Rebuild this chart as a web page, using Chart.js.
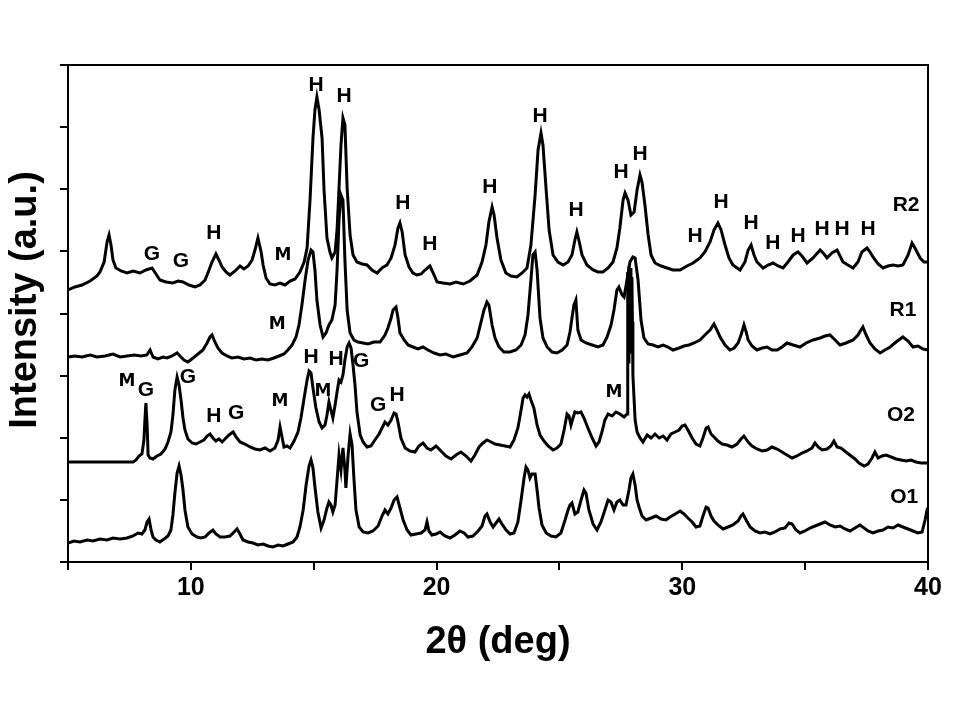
<!DOCTYPE html>
<html>
<head>
<meta charset="utf-8">
<script src="https://cdn.jsdelivr.net/npm/chart.js@4.4.0/dist/chart.umd.min.js"></script>
<style>
  html, body { margin: 0; padding: 0; background: #fff; }
</style>
</head>
<body>
<canvas id="xrd" width="960" height="720"></canvas>
<script>
// XRD patterns: [2theta (deg), intensity (a.u., curves already offset)]
const o1Pattern = [
  [5.00,19],[5.24,21],[5.49,20],[5.77,22],[6.02,21],[6.30,23],[6.59,22],[6.83,24],[7.12,23],[7.40,24],
  [7.65,26],[7.85,29],[8.01,28],[8.13,32],[8.22,40],[8.30,43],[8.38,32],[8.46,25],[8.58,22],[8.74,20],
  [8.91,23],[9.07,26],[9.19,32],[9.27,47],[9.35,69],[9.44,89],[9.52,96],[9.60,87],[9.68,72],[9.76,52],
  [9.88,35],[10.05,28],[10.25,25],[10.41,24],[10.58,25],[10.74,29],[10.90,32],[11.02,28],[11.19,25],[11.39,25],
  [11.59,26],[11.76,30],[11.88,33],[12.00,28],[12.12,22],[12.33,20],[12.53,19],[12.73,17],[12.94,18],[13.14,16],
  [13.34,15],[13.55,17],[13.75,16],[13.95,18],[14.16,20],[14.32,25],[14.44,35],[14.57,52],[14.69,77],[14.81,96],
  [14.89,102],[14.97,94],[15.05,75],[15.17,50],[15.30,34],[15.42,42],[15.54,54],[15.62,60],[15.70,57],[15.78,50],
  [15.87,57],[15.95,82],[16.03,107],[16.11,92],[16.19,114],[16.27,92],[16.31,74],[16.40,107],[16.48,128],[16.56,117],
  [16.64,82],[16.72,52],[16.85,35],[17.01,30],[17.21,29],[17.41,31],[17.62,36],[17.78,46],[17.90,52],[18.02,48],
  [18.15,54],[18.27,62],[18.39,65],[18.51,54],[18.64,42],[18.80,32],[18.96,27],[19.16,28],[19.37,29],[19.53,32],
  [19.61,40],[19.69,31],[19.81,27],[19.98,28],[20.14,30],[20.34,26],[20.55,24],[20.75,27],[20.95,31],[21.12,29],
  [21.28,25],[21.48,26],[21.69,31],[21.85,36],[21.97,46],[22.05,48],[22.18,40],[22.30,35],[22.42,39],[22.54,43],
  [22.66,38],[22.83,32],[22.99,28],[23.15,29],[23.31,40],[23.44,62],[23.56,84],[23.64,95],[23.72,92],[23.80,84],
  [23.88,88],[24.01,88],[24.09,72],[24.17,54],[24.29,37],[24.46,29],[24.66,26],[24.86,25],[25.06,29],[25.23,42],
  [25.35,52],[25.43,57],[25.51,59],[25.63,48],[25.75,50],[25.88,62],[26.00,72],[26.08,69],[26.20,52],[26.37,38],
  [26.53,32],[26.69,40],[26.85,52],[26.98,62],[27.10,60],[27.22,52],[27.34,60],[27.46,62],[27.59,57],[27.71,57],
  [27.83,72],[27.91,84],[27.99,88],[28.08,77],[28.16,62],[28.24,55],[28.36,46],[28.53,42],[28.73,44],[28.93,46],
  [29.14,43],[29.34,42],[29.50,45],[29.71,48],[29.91,51],[30.07,48],[30.23,44],[30.40,40],[30.56,35],[30.72,36],
  [30.84,46],[30.97,55],[31.05,54],[31.17,46],[31.29,41],[31.45,37],[31.66,33],[31.86,35],[32.06,37],[32.27,41],
  [32.39,46],[32.47,48],[32.60,42],[32.76,35],[32.96,31],[33.16,29],[33.37,30],[33.57,28],[33.77,30],[33.98,33],
  [34.18,34],[34.34,39],[34.47,38],[34.63,32],[34.79,29],[34.99,31],[35.20,34],[35.40,36],[35.61,38],[35.81,40],
  [36.01,37],[36.22,35],[36.42,36],[36.62,33],[36.83,31],[37.03,34],[37.23,37],[37.40,34],[37.56,31],[37.76,29],
  [37.97,31],[38.17,32],[38.37,35],[38.58,34],[38.78,37],[38.98,35],[39.19,33],[39.39,31],[39.59,29],[39.76,30],
  [39.88,42],[39.96,52],[40.00,54]
];

const o2Pattern = [
  [5.00,100],[7.65,100],[7.77,102],[7.89,106],[8.01,108],[8.09,122],[8.13,142],[8.17,159],[8.22,137],[8.26,107],
  [8.34,104],[8.46,103],[8.62,106],[8.78,108],[8.95,113],[9.07,120],[9.19,130],[9.27,147],[9.35,172],[9.44,185],
  [9.52,177],[9.60,162],[9.68,144],[9.76,132],[9.88,123],[10.05,119],[10.21,118],[10.37,120],[10.53,122],[10.66,126],
  [10.78,128],[10.90,124],[11.02,121],[11.14,123],[11.27,120],[11.43,124],[11.55,127],[11.72,130],[11.84,125],[12.00,120],
  [12.20,118],[12.41,115],[12.61,113],[12.81,112],[13.02,114],[13.22,111],[13.42,114],[13.55,122],[13.63,135],[13.71,125],
  [13.79,115],[13.91,116],[14.04,114],[14.20,121],[14.36,130],[14.48,144],[14.61,164],[14.73,182],[14.81,191],[14.89,189],
  [14.97,174],[15.09,154],[15.22,140],[15.34,134],[15.46,137],[15.54,147],[15.62,160],[15.70,152],[15.78,144],[15.87,157],
  [15.95,170],[16.03,182],[16.11,180],[16.19,187],[16.27,202],[16.36,215],[16.44,219],[16.52,214],[16.60,197],[16.68,177],
  [16.76,150],[16.89,127],[17.01,120],[17.17,115],[17.33,116],[17.49,122],[17.66,128],[17.78,134],[17.90,140],[18.02,137],
  [18.15,142],[18.27,149],[18.35,148],[18.43,140],[18.55,124],[18.72,114],[18.92,111],[19.12,110],[19.28,116],[19.45,119],
  [19.61,114],[19.77,112],[19.98,116],[20.18,111],[20.38,106],[20.59,103],[20.79,107],[20.99,110],[21.20,106],[21.40,101],
  [21.56,107],[21.73,115],[21.89,119],[22.05,122],[22.22,120],[22.38,118],[22.58,117],[22.79,116],[22.99,115],[23.15,122],
  [23.31,134],[23.44,152],[23.52,164],[23.60,167],[23.68,165],[23.76,168],[23.84,162],[23.96,154],[24.09,137],[24.21,127],
  [24.37,121],[24.54,116],[24.74,112],[24.90,114],[25.06,118],[25.19,132],[25.31,148],[25.39,146],[25.47,137],[25.55,144],
  [25.63,150],[25.75,149],[25.88,150],[26.00,144],[26.16,134],[26.33,124],[26.49,116],[26.61,120],[26.73,130],[26.85,142],
  [26.98,148],[27.14,146],[27.30,150],[27.46,148],[27.63,145],[27.75,148],[27.77,230],[27.79,290],[27.81,200],[27.83,296],
  [27.85,220],[27.87,292],[27.89,210],[27.91,294],[27.93,230],[27.95,285],[27.97,240],[27.99,187],[28.08,142],[28.16,130],
  [28.28,124],[28.40,120],[28.57,127],[28.73,124],[28.89,128],[29.06,124],
  [29.22,126],[29.38,122],[29.54,128],[29.71,130],[29.87,132],[29.99,136],[30.11,137],[30.23,132],[30.40,124],[30.56,118],
  [30.72,116],[30.84,124],[30.97,134],[31.05,135],[31.17,128],[31.29,125],[31.45,121],[31.62,118],[31.82,117],[32.02,115],
  [32.23,118],[32.39,123],[32.51,126],[32.68,120],[32.84,116],[33.04,113],[33.25,111],[33.45,112],[33.65,115],[33.86,113],
  [34.06,110],[34.26,107],[34.47,104],[34.67,106],[34.87,109],[35.08,111],[35.28,114],[35.40,119],[35.53,115],[35.69,112],
  [35.89,113],[36.05,116],[36.17,121],[36.30,115],[36.46,114],[36.66,110],[36.87,106],[37.03,103],[37.19,99],[37.40,96],
  [37.56,98],[37.72,104],[37.84,110],[37.97,104],[38.13,106],[38.29,107],[38.50,105],[38.70,103],[38.90,102],[39.11,101],
  [39.31,102],[39.51,100],[39.72,99],[40.00,99]
];

const r1Pattern = [
  [5.00,205],[5.28,206],[5.57,205],[5.90,207],[6.18,205],[6.51,206],[6.83,208],[7.12,205],[7.40,206],[7.69,207],
  [7.97,206],[8.21,207],[8.34,212],[8.46,205],[8.66,203],[8.87,205],[9.03,204],[9.23,206],[9.44,209],[9.56,206],
  [9.72,202],[9.88,200],[10.09,204],[10.29,208],[10.49,212],[10.66,219],[10.78,225],[10.86,227],[10.98,220],[11.10,214],
  [11.27,209],[11.47,206],[11.67,204],[11.92,205],[12.16,203],[12.41,204],[12.65,202],[12.90,203],[13.14,202],[13.38,204],
  [13.59,206],[13.79,208],[13.95,212],[14.12,217],[14.28,225],[14.40,237],[14.52,257],[14.65,282],[14.77,302],[14.89,312],
  [14.97,310],[15.05,292],[15.13,262],[15.26,237],[15.38,225],[15.50,229],[15.62,237],[15.74,242],[15.87,257],[15.95,292],
  [16.03,342],[16.11,367],[16.19,362],[16.27,302],[16.36,252],[16.48,229],[16.64,222],[16.80,220],[17.01,219],[17.21,218],
  [17.45,220],[17.70,220],[17.90,227],[18.02,234],[18.15,244],[18.23,252],[18.35,255],[18.43,244],[18.51,229],[18.68,222],
  [18.84,217],[19.04,215],[19.24,213],[19.45,215],[19.65,212],[19.90,209],[20.14,207],[20.38,208],[20.67,205],[20.95,207],
  [21.24,209],[21.44,215],[21.65,224],[21.81,240],[21.93,252],[22.05,260],[22.13,257],[22.26,237],[22.38,224],[22.54,215],
  [22.74,210],[22.99,210],[23.23,212],[23.44,217],[23.60,227],[23.72,247],[23.84,282],[23.92,307],[24.01,310],[24.09,292],
  [24.21,244],[24.33,224],[24.50,215],[24.70,210],[24.90,209],[25.11,212],[25.31,217],[25.43,230],[25.51,244],[25.59,257],
  [25.67,262],[25.75,232],[25.88,222],[26.08,219],[26.33,217],[26.57,215],[26.77,217],[26.94,225],[27.10,237],[27.22,252],
  [27.34,272],[27.42,275],[27.55,267],[27.63,265],[27.75,282],[27.87,300],[27.99,305],[28.08,304],[28.20,282],[28.32,242],
  [28.44,224],[28.61,218],[28.81,217],[29.01,215],[29.22,217],[29.42,215],[29.62,212],[29.87,214],[30.07,216],[30.27,217],
  [30.48,219],[30.72,222],[30.92,227],[31.13,232],[31.29,238],[31.41,232],[31.54,225],[31.74,217],[31.94,212],[32.11,214],
  [32.27,219],[32.39,227],[32.51,237],[32.60,230],[32.68,222],[32.84,216],[33.04,212],[33.25,214],[33.45,215],[33.65,212],
  [33.86,212],[34.06,215],[34.26,219],[34.51,217],[34.79,215],[35.04,219],[35.32,222],[35.61,224],[35.81,226],[36.01,227],
  [36.22,222],[36.42,217],[36.66,219],[36.95,222],[37.15,227],[37.27,232],[37.35,235],[37.48,227],[37.64,219],[37.84,213],
  [38.05,209],[38.25,212],[38.46,215],[38.70,220],[38.98,225],[39.19,221],[39.39,215],[39.59,216],[39.80,213],[40.00,212]
];

const r2Pattern = [
  [5.00,272],[5.28,275],[5.57,277],[5.90,281],[6.18,286],[6.30,290],[6.47,300],[6.59,320],[6.67,327],[6.75,317],
  [6.83,302],[6.95,294],[7.16,291],[7.40,289],[7.65,291],[7.93,289],[8.17,292],[8.42,294],[8.58,288],[8.74,282],
  [8.99,280],[9.27,279],[9.48,281],[9.68,280],[9.92,277],[10.17,275],[10.37,277],[10.58,282],[10.74,292],[10.86,300],
  [11.02,308],[11.14,302],[11.27,295],[11.43,290],[11.59,287],[11.80,291],[12.00,296],[12.16,293],[12.33,296],[12.49,302],
  [12.61,312],[12.73,324],[12.86,310],[12.94,297],[13.06,284],[13.22,278],[13.42,277],[13.63,279],[13.83,277],[14.04,281],
  [14.24,283],[14.44,290],[14.61,300],[14.73,314],[14.85,362],[14.97,424],[15.05,452],[15.13,465],[15.22,452],[15.34,424],
  [15.42,372],[15.54,324],[15.66,310],[15.74,304],[15.87,310],[15.95,332],[16.03,374],[16.11,417],[16.19,444],[16.27,437],
  [16.36,374],[16.48,327],[16.60,307],[16.76,300],[16.97,298],[17.17,297],[17.37,292],[17.58,289],[17.78,294],[17.98,297],
  [18.15,304],[18.31,317],[18.43,334],[18.51,339],[18.60,330],[18.72,307],[18.88,295],[19.04,289],[19.20,287],[19.37,288],
  [19.53,292],[19.73,296],[19.90,287],[20.02,280],[20.26,279],[20.55,278],[20.79,280],[21.08,278],[21.36,281],[21.65,287],
  [21.85,300],[22.01,317],[22.13,340],[22.26,355],[22.34,347],[22.46,324],[22.62,302],[22.82,289],[23.03,286],[23.27,285],
  [23.48,289],[23.68,294],[23.84,317],[24.01,367],[24.13,412],[24.25,429],[24.33,417],[24.46,372],[24.58,332],[24.74,307],
  [24.94,300],[25.15,297],[25.35,300],[25.51,307],[25.63,322],[25.71,330],[25.79,322],[25.92,307],[26.12,297],[26.37,292],
  [26.57,290],[26.77,290],[26.98,294],[27.18,300],[27.34,314],[27.46,334],[27.59,362],[27.67,369],[27.79,362],[27.91,347],
  [28.04,350],[28.16,372],[28.28,387],[28.36,380],[28.48,357],[28.61,327],[28.73,307],[28.89,299],[29.14,296],[29.38,294],
  [29.62,292],[29.91,292],[30.19,296],[30.44,299],[30.72,304],[30.92,310],[31.13,320],[31.29,332],[31.45,339],[31.58,332],
  [31.74,317],[31.90,304],[32.06,297],[32.35,292],[32.55,300],[32.68,312],[32.80,317],[32.92,307],[33.04,300],[33.29,294],
  [33.49,297],[33.69,299],[33.90,296],[34.10,294],[34.30,300],[34.51,307],[34.71,310],[34.87,306],[35.08,299],[35.32,304],
  [35.61,312],[35.77,308],[35.89,304],[36.09,309],[36.30,312],[36.54,300],[36.74,297],[36.95,294],[37.15,300],[37.31,310],
  [37.52,314],[37.64,310],[37.76,305],[37.97,298],[38.17,294],[38.37,296],[38.58,297],[38.78,296],[38.98,297],[39.19,307],
  [39.35,319],[39.47,314],[39.68,304],[39.84,300],[40.00,300]
];

const seriesNames = ['O1', 'O2', 'R1', 'R2'];

// phase labels: [text, 2theta, intensity]
const phaseLabels = [
  ['H',15.10,477],['H',16.24,466],['G',8.42,308],['G',9.60,301],['H',10.94,329],['M',13.75,306],
  ['H',18.63,359],['H',19.73,318],['H',22.17,375],['H',24.21,446],['H',25.68,352],['H',27.51,390],
  ['H',28.28,408],['H',30.52,326],['H',31.58,360],['H',32.80,339],['H',33.69,319],['H',34.71,326],
  ['H',35.69,333],['H',36.50,333],['H',37.56,333],
  ['M',13.51,237],
  ['M',7.40,180],['G',8.17,172],['G',9.88,185],['H',10.94,146],['G',11.84,149],['M',13.63,160],
  ['H',14.89,205],['M',15.38,170],['H',15.91,203],['G',16.93,201],['G',17.62,157],['H',18.39,167],
  ['M',27.22,169]
];
// curve names: [text, 2theta, intensity]
const curveLabels = [['R2',39.11,357],['R1',38.98,252],['O2',38.90,147],['O1',39.03,65]];

const boldFont = '"Liberation Sans", Arial, sans-serif';

const frameAndLabels = {
  id: 'frameAndLabels',
  afterDatasetsDraw(chart) {
    const {ctx, chartArea: a, scales: {x, y}} = chart;
    ctx.save();
    ctx.strokeStyle = '#000';
    ctx.lineWidth = 2;
    ctx.strokeRect(a.left, a.top, a.right - a.left, a.bottom - a.top);
    ctx.fillStyle = '#000';
    ctx.textAlign = 'center';
    ctx.textBaseline = 'middle';
    phaseLabels.concat(curveLabels).forEach(([t, tx, ty]) => {
      ctx.font = t === 'M' ? 'bold 17px "DejaVu Sans"' : 'bold 21px ' + boldFont;
      ctx.fillText(t, x.getPixelForValue(tx), y.getPixelForValue(ty));
    });
    // y axis title, a bit above the axis middle as in the original
    ctx.translate(26, 300);
    ctx.rotate(-Math.PI / 2);
    ctx.font = 'bold 38px ' + boldFont;
    ctx.fillText('Intensity (a.u.)', 0, 0);
    ctx.restore();
  }
};

const patterns = [o1Pattern, o2Pattern, r1Pattern, r2Pattern];

new Chart(document.getElementById('xrd'), {
  type: 'line',
  data: {
    datasets: patterns.map((p, i) => ({
      label: seriesNames[i],
      data: p.map(([t, v]) => ({x: t, y: v})),
      borderColor: '#000',
      borderWidth: 3,
      pointRadius: 0,
      tension: 0,
      fill: false
    }))
  },
  options: {
    responsive: false,
    animation: false,
    layout: { padding: { top: 65, right: 32, left: 0, bottom: 0 } },
    plugins: { legend: { display: false }, tooltip: { enabled: false } },
    scales: {
      x: {
        type: 'linear', min: 5, max: 40,
        ticks: {
          stepSize: 5, autoSkip: false, maxRotation: 0, padding: 3, color: '#000',
          font: { family: boldFont, size: 25, weight: 'bold' },
          callback: v => (v % 10 === 0 ? v : '')
        },
        grid: { drawOnChartArea: false, drawTicks: true, tickLength: 8, color: '#000', lineWidth: 2 },
        border: { display: true, color: '#000', width: 2 },
        title: {
          display: true, text: '2θ (deg)', color: '#000',
          font: { family: boldFont, size: 38, weight: 'bold' },
          padding: { top: 0, bottom: 55 }
        },
        afterFit: s => { s.height = 158; }
      },
      y: {
        type: 'linear', min: 0, max: 497,
        ticks: { display: false, stepSize: 62.125 },
        grid: { drawOnChartArea: false, drawTicks: true, tickLength: 8, color: '#000', lineWidth: 2 },
        border: { display: true, color: '#000', width: 2 },
        afterFit: s => { s.width = 68; }
      }
    }
  },
  plugins: [frameAndLabels]
});
</script>
</body>
</html>
